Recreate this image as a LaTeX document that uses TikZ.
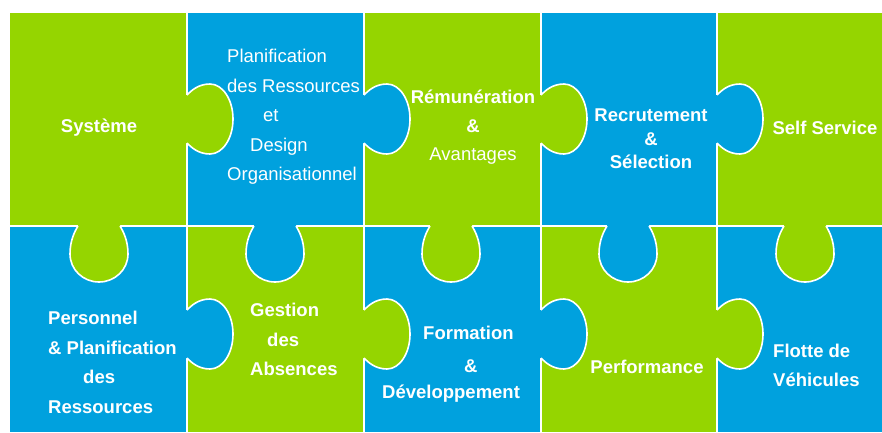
\documentclass[tikz,border=0pt]{standalone}
\usepackage{fontspec}
\setmainfont{Liberation Sans}
\definecolor{puzzlegreen}{RGB}{149,213,0}
\definecolor{puzzleblue}{RGB}{0,161,222}

\tikzset{
    piece label/.style={text=white, inner sep=0pt, font=\fontsize{18.5}{29.5}\selectfont},
    bold label/.style={piece label, font=\fontsize{18.5}{29.5}\selectfont\bfseries},
    seam/.style={white, line width=1.6pt},
}

\newcommand{\righttab}[3]{
    \fill[#3, shift={(#1,#2)}] (-2,-24) -- (0,-24) .. controls (4,-28) and (11,-35) .. (23,-35)
        .. controls (35.7,-35) and (46,-19.3) .. (46,0) .. controls (46,19.3) and (35.7,35) .. (23,35)
        .. controls (11,35) and (4,28) .. (0,24) -- (-2,24) -- cycle;
    \draw[seam, shift={(#1,#2)}] (0,-24) .. controls (4,-28) and (11,-35) .. (23,-35)
        .. controls (35.7,-35) and (46,-19.3) .. (46,0) .. controls (46,19.3) and (35.7,35) .. (23,35)
        .. controls (11,35) and (4,28) .. (0,24);
}
\newcommand{\downtab}[3]{
    \fill[#3, shift={(#1,#2)}] (-21,-2) -- (-21,0) .. controls (-24,5) and (-29,14) .. (-29,28)
        .. controls (-29,43.5) and (-16,56) .. (0,56) .. controls (16,56) and (29,43.5) .. (29,28)
        .. controls (29,14) and (24,5) .. (21,0) -- (21,-2) -- cycle;
    \draw[seam, shift={(#1,#2)}] (-21,0) .. controls (-24,5) and (-29,14) .. (-29,28)
        .. controls (-29,43.5) and (-16,56) .. (0,56) .. controls (16,56) and (29,43.5) .. (29,28)
        .. controls (29,14) and (24,5) .. (21,0);
}

\begin{document}
\begin{tikzpicture}[x=1pt, y=-1pt]
        \useasboundingbox (0,0) rectangle (882,432);

        \fill[puzzlegreen] (10,13) rectangle (187,226);
        \fill[puzzleblue] (187,13) rectangle (364,226);
        \fill[puzzlegreen] (364,13) rectangle (541,226);
        \fill[puzzleblue] (541,13) rectangle (717,226);
        \fill[puzzlegreen] (717,13) rectangle (882,226);
        \fill[puzzleblue] (10,226) rectangle (187,432);
        \fill[puzzlegreen] (187,226) rectangle (364,432);
        \fill[puzzleblue] (364,226) rectangle (541,432);
        \fill[puzzlegreen] (541,226) rectangle (717,432);
        \fill[puzzleblue] (717,226) rectangle (882,432);

        \foreach \x in {187,364,541,717}
            \draw[seam] (\x,13) -- (\x,432);
        \draw[seam] (10,226) -- (882,226);

        \righttab{187}{119}{puzzlegreen}
        \righttab{364}{119}{puzzleblue}
        \righttab{541}{119}{puzzlegreen}
        \righttab{717}{119}{puzzleblue}
        \righttab{187}{334}{puzzleblue}
        \righttab{364}{334}{puzzlegreen}
        \righttab{541}{334}{puzzleblue}
        \righttab{717}{334}{puzzlegreen}
        \downtab{99}{226}{puzzlegreen}
        \downtab{275}{226}{puzzleblue}
        \downtab{451}{226}{puzzlegreen}
        \downtab{628}{226}{puzzleblue}
        \downtab{805}{226}{puzzlegreen}

        \node (systeme) [bold label] at (99,128) {Système};
        \node (planification) [piece label, align=left, anchor=west] at (227,117) {Planification\\des Ressources\\\hspace*{36pt}et\\\hspace*{23pt}Design\\Organisationnel};
        \node (remuneration) [piece label, align=center] at (473,127) {\textbf{Rémunération}\\\textbf{\&}\\[-2pt]Avantages};
        \node (recrutement) [bold label, align=center, font=\fontsize{18.5}{23.5}\selectfont\bfseries] at (651,139) {Recrutement\\\&\\Sélection};
        \node (self service) [bold label] at (825,128) {Self Service};
        \node (personnel) [bold label, align=left, anchor=west] at (48,362.5) {Personnel\\\& Planification\\\hspace*{35pt}des\\Ressources};
        \node (gestion) [bold label, align=left, anchor=west] at (250,339.5) {Gestion\\\hspace*{17pt}des\\Absences};
        \node (formation) [bold label, align=left, anchor=west] at (382,364) {\hspace*{41pt}Formation\\[3.5pt]\hspace*{82pt}\&\\[-4pt]Développement};
        \node (performance) [bold label] at (647,367) {Performance};
        \node (flotte) [bold label, align=left, anchor=west] at (773,365.5) {Flotte de\\Véhicules};
    \end{tikzpicture}
\end{document}
